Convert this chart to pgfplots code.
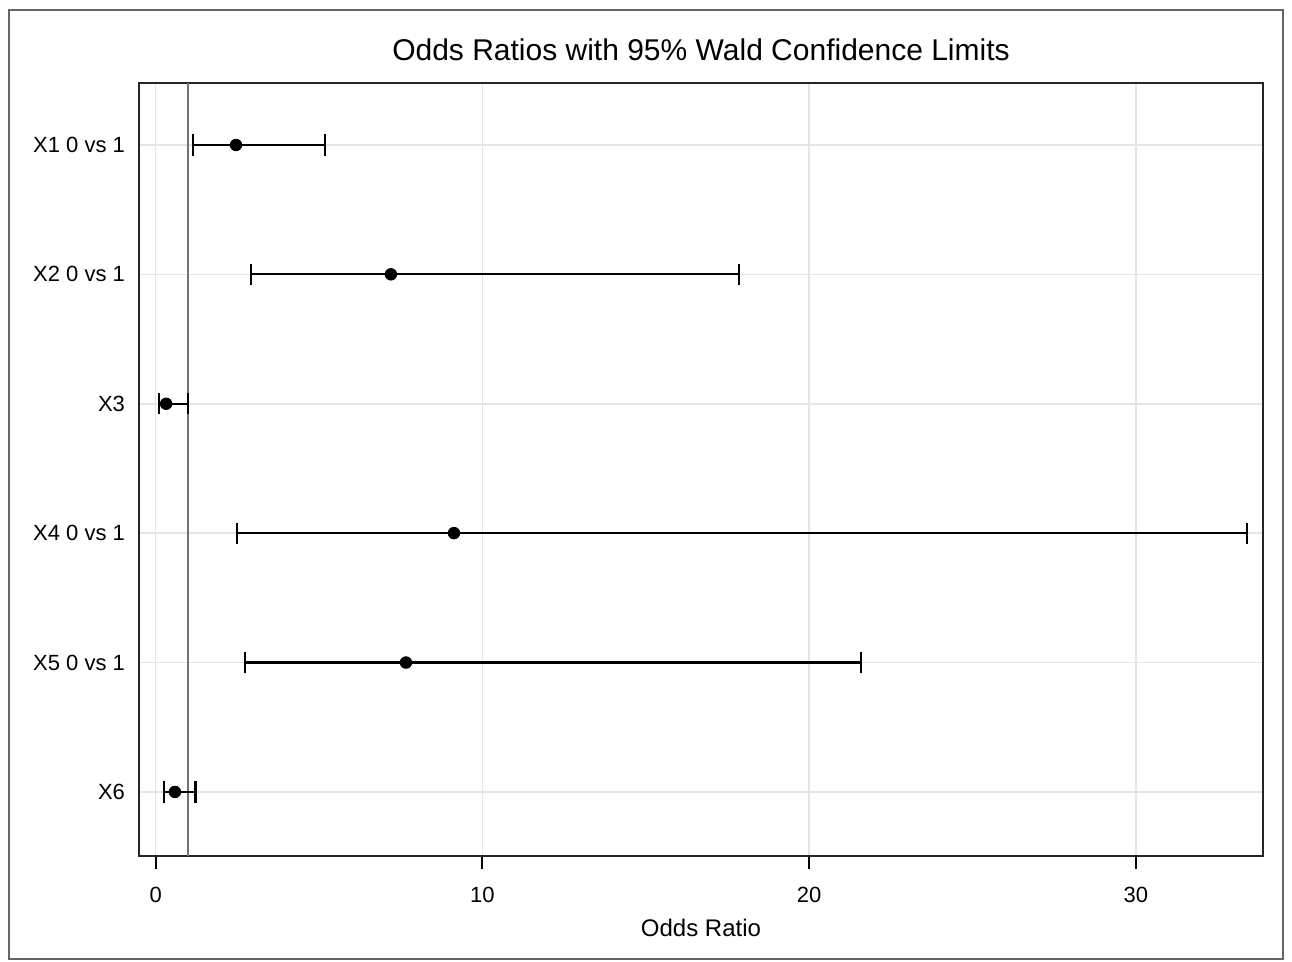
\documentclass[border=0pt]{standalone}
\usepackage{fontspec}
\setmainfont{Liberation Sans}
\usepackage{pgfplots}
\usepackage{pgfplotstable}
\pgfplotsset{compat=1.18}
\pgfplotstableread{
y  or    lo    hi
6  2.46  1.15  5.18
5  7.20  2.92  17.85
4  0.32  0.09  0.98
3  9.13  2.49  33.41
2  7.66  2.73  21.59
1  0.59  0.26  1.22
}\ortable
\begin{document}
\begin{tikzpicture}[x=1pt,y=1pt]
\useasboundingbox (0,0) rectangle (646,481);
\draw[line width=1pt, black!60] (4.5,1.5) rectangle (641.5,476);
\begin{axis}[
  at={(69.5pt,53pt)}, anchor=south west,
  scale only axis, width=562pt, height=386.5pt,
  xmin=-0.51, xmax=33.89, ymin=0.505, ymax=6.479,
  xtick={0,10,20,30}, ytick={1,2,3,4,5,6},
  yticklabels={X6, X5 0 vs 1, X4 0 vs 1, X3, X2 0 vs 1, X1 0 vs 1},
  xtick pos=bottom, ytick pos=left,
  tick align=outside,
  major tick length=6.5pt,
  x tick style={line width=1pt, black},
  y tick style={draw=none},
  grid=major, major grid style={black!10, line width=0.8pt},
  axis line style={line width=1.1pt, black!85},
  /pgf/number format/assume math mode=true,
  xticklabel style={font=\fontsize{11}{13}\selectfont, yshift=-5.5pt},
  yticklabel style={font=\fontsize{11}{13}\selectfont, xshift=3pt},
  title={Odds Ratios with 95\% Wald Confidence Limits},
  title style={font=\fontsize{15}{18}\selectfont, at={(0.5,1)}, anchor=base, yshift=5pt},
  xlabel={Odds Ratio},
  xlabel style={font=\fontsize{12}{14}\selectfont, at={(0.5,0)}, anchor=base, yshift=-40.5pt},
]
\addplot[black!55, line width=1pt, forget plot] coordinates {(1,0.505) (1,6.479)};
\addplot[only marks, mark=*, mark size=2.9pt, black,
  error bars/.cd, x dir=both, x explicit,
  error mark=|,
  error bar style={line width=1.1pt, black},
  error mark options={mark size=5.3pt, line width=1.1pt, black}]
  table[x=or, y=y, x error plus expr=\thisrow{hi}-\thisrow{or}, x error minus expr=\thisrow{or}-\thisrow{lo}] {\ortable};
\end{axis}
\end{tikzpicture}
\end{document}
